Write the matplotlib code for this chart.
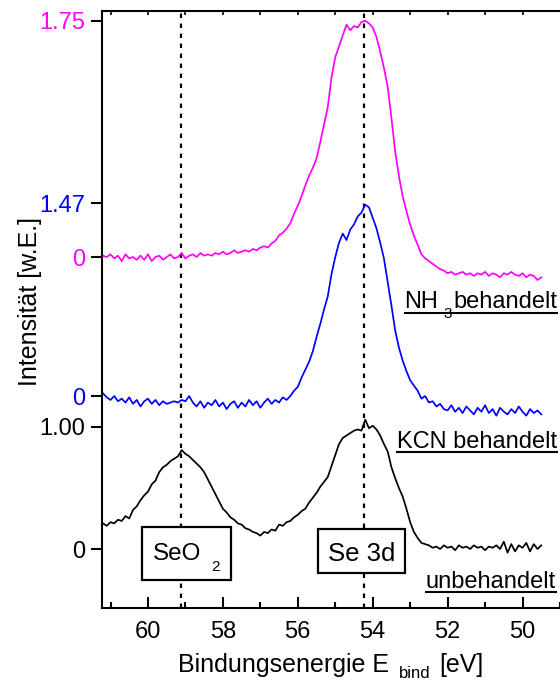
import numpy as np
import matplotlib
matplotlib.use("Agg")
import matplotlib.pyplot as plt
from matplotlib.transforms import IdentityTransform
from matplotlib.lines import Line2D
from matplotlib.patches import Rectangle

plt.rcParams['font.family'] = ['Liberation Sans', 'DejaVu Sans']

# ---------------- data (binding energy grid 61.2 -> 49.5 eV, 0.1 eV steps) ----------------
energy_start = 61.2
energy_step = 0.1

unbehandelt = [
    0.21, 0.19, 0.22, 0.21, 0.24, 0.23, 0.27, 0.25, 0.32, 0.35,
    0.40, 0.44, 0.47, 0.53, 0.56, 0.63, 0.67, 0.69, 0.72, 0.74,
    0.76, 0.81, 0.78, 0.76, 0.73, 0.70, 0.67, 0.63, 0.57, 0.51,
    0.45, 0.39, 0.33, 0.30, 0.26, 0.24, 0.21, 0.20, 0.17, 0.16,
    0.14, 0.13, 0.11, 0.14, 0.13, 0.16, 0.15, 0.20, 0.19, 0.22,
    0.23, 0.26, 0.28, 0.31, 0.33, 0.38, 0.42, 0.46, 0.51, 0.55,
    0.59, 0.68, 0.77, 0.86, 0.91, 0.93, 0.95, 0.97, 0.98, 0.97,
    1.06, 0.99, 1.01, 0.98, 0.93, 0.86, 0.80, 0.67, 0.58, 0.50,
    0.43, 0.33, 0.22, 0.14, 0.09, 0.05, 0.04, 0.03, 0.01, 0.02,
    0.00, 0.03, 0.01, 0.02, -0.01, 0.03, 0.01, 0.02, 0.00, 0.03,
    0.01, 0.02, -0.01, 0.02, 0.01, 0.03, 0.00, 0.06, -0.03, 0.04,
    -0.02, 0.03, 0.01, 0.05, -0.02, 0.04, 0.00, 0.03,
]

kcn_behandelt = [
    0.02, -0.01, -0.03, 0.00, -0.04, -0.02, -0.05, -0.01, -0.06, -0.03,
    -0.08, -0.04, -0.02, -0.06, -0.03, -0.07, -0.04, -0.06, -0.05, -0.04,
    -0.05, -0.03, -0.04, 0.00, -0.05, -0.08, -0.04, -0.09, -0.05, -0.07,
    -0.03, -0.08, -0.05, -0.10, -0.06, -0.04, -0.09, -0.05, -0.08, -0.03,
    -0.07, -0.04, -0.09, -0.05, -0.02, -0.06, -0.03, -0.05, -0.01, -0.03,
    0.00, 0.04, 0.07, 0.14, 0.20, 0.26, 0.34, 0.45, 0.55, 0.66,
    0.76, 0.93, 1.06, 1.17, 1.24, 1.19, 1.27, 1.31, 1.37, 1.40,
    1.46, 1.44, 1.36, 1.28, 1.17, 1.05, 0.87, 0.69, 0.50, 0.37,
    0.27, 0.19, 0.12, 0.08, 0.04, -0.02, 0.00, -0.05, -0.04, -0.08,
    -0.06, -0.10, -0.11, -0.07, -0.12, -0.09, -0.13, -0.08, -0.11, -0.14,
    -0.09, -0.12, -0.07, -0.13, -0.10, -0.15, -0.09, -0.12, -0.14, -0.10,
    -0.13, -0.08, -0.12, -0.15, -0.10, -0.13, -0.11, -0.14,
]

nh3_behandelt = [
    0.01, 0.00, 0.02, -0.01, 0.01, -0.03, 0.02, -0.01, 0.00, -0.02,
    0.01, -0.02, 0.02, -0.03, 0.00, 0.01, -0.02, 0.00, 0.02, -0.01,
    0.00, 0.03, -0.01, 0.01, 0.02, 0.00, 0.03, 0.01, 0.02, 0.01,
    0.03, 0.02, 0.04, 0.02, 0.03, 0.05, 0.03, 0.04, 0.05, 0.04,
    0.06, 0.05, 0.07, 0.08, 0.07, 0.10, 0.12, 0.16, 0.18, 0.21,
    0.25, 0.32, 0.38, 0.45, 0.53, 0.60, 0.66, 0.73, 0.85, 0.98,
    1.11, 1.33, 1.48, 1.56, 1.64, 1.72, 1.68, 1.71, 1.70, 1.74,
    1.75, 1.73, 1.70, 1.63, 1.52, 1.40, 1.26, 1.03, 0.78, 0.60,
    0.45, 0.34, 0.24, 0.16, 0.09, 0.02, -0.01, -0.03, -0.05, -0.07,
    -0.09, -0.10, -0.12, -0.11, -0.13, -0.12, -0.11, -0.13, -0.12, -0.14,
    -0.12, -0.13, -0.11, -0.14, -0.12, -0.13, -0.15, -0.12, -0.13, -0.11,
    -0.13, -0.14, -0.12, -0.15, -0.13, -0.14, -0.17, -0.15,
]

energy = energy_start - energy_step * np.arange(len(unbehandelt))

series_values = [unbehandelt, kcn_behandelt, nh3_behandelt]
series_colors = ['black', '#0000ff', '#ff00ff']
series_offsets = [0.0, 1.254, 2.393]
series_scales = [1.0, 1.074, 1.107]
series_tops = [1.00, 1.47, 1.75]
series_top_labels = ['1.00', '1.47', '1.75']

peak_energies = [59.13, 54.24]
x_major = [60, 58, 56, 54, 52, 50]
x_minor = [61, 59, 57, 55, 53, 51, 49]
top_ticks = list(range(50, 62))

# ---------------- figure ----------------
W, H = 560, 681
fig = plt.figure(figsize=(W / 100, H / 100), dpi=100)
ax = fig.add_axes([102 / W, (H - 608) / H, (W - 102) / W, (608 - 11) / H])

for x in peak_energies:
    ax.axvline(x, color='black', lw=1.6, ls=(0, (2, 2.5)), zorder=1)

for vals, col, off, sc in zip(series_values, series_colors, series_offsets, series_scales):
    ax.plot(energy, off + sc * np.asarray(vals), color=col, lw=1.25, zorder=2)

ax.set_xlim(61.227, 49.013)
ax.set_ylim(-0.4836, 4.4098)

# y ticks: 0 and top label per curve
yt, yl, yc = [], [], []
for off, sc, top, lab, col in zip(series_offsets, series_scales, series_tops,
                                  series_top_labels, series_colors):
    yt += [off, off + sc * top]
    yl += ['0', lab]
    yc += [col, col]
order = np.argsort(yt)
ax.set_yticks([yt[i] for i in order])
ax.set_yticklabels([yl[i] for i in order], fontsize=17)
for lbl, i in zip(ax.get_yticklabels(), order):
    lbl.set_color(yc[i])
ax.tick_params(axis='y', direction='out', length=8, width=1.5, pad=4)

ax.set_xticks(x_major)
ax.set_xticklabels([str(v) for v in x_major], fontsize=17)
ax.set_xticks(x_minor, minor=True)
ax.tick_params(axis='x', which='major', direction='in', length=8, width=1.5, pad=9)
ax.tick_params(axis='x', which='minor', direction='in', length=4, width=1.5)

for s in ['left', 'bottom']:
    ax.spines[s].set_linewidth(1.5)
ax.spines['right'].set_visible(False)
ax.spines['top'].set_visible(False)

sec = ax.secondary_xaxis('top')
sec.set_xticks(top_ticks)
sec.set_xticklabels([])
sec.tick_params(direction='in', length=3, width=1.2)
sec.spines['top'].set_linewidth(1.5)

ax.set_ylabel('Intensität [w.E.]', fontsize=18)
ax.yaxis.set_label_coords(-0.131, 0.514)

fig.canvas.draw()
R = fig.canvas.get_renderer()


def compose(pieces, x, base_px, align):
    yb = H - base_px
    arts = []
    cur = 0.0
    for s, size, drop, gap in pieces:
        cur += gap
        t = fig.text(cur, yb - drop, s, fontsize=size, ha='left', va='baseline',
                     transform=IdentityTransform(), zorder=5)
        bb = t.get_window_extent(renderer=R)
        cur = bb.x1
        arts.append(t)
    if align == 'left':
        shift = x
    elif align == 'right':
        shift = x - cur
    else:
        shift = x - cur / 2
    for t in arts:
        px, py = t.get_position()
        t.set_position((px + shift, py))
    return shift, shift + cur


def underline(x0, x1, base_px, d=3.5):
    y = H - base_px - d
    fig.add_artist(Line2D([x0, x1], [y, y], transform=IdentityTransform(),
                          color='black', lw=1.5, zorder=5))


def box(x0, x1, top_px, bottom_px):
    fig.add_artist(Rectangle((x0, H - bottom_px), x1 - x0, bottom_px - top_px,
                             transform=IdentityTransform(), fc='white', ec='black',
                             lw=1.6, zorder=4))


# x label with lowered subscript
compose([("Bindungsenergie E", 18, 0, 0), ("bind", 12, 6, 10), ("[eV]", 18, 0, 9)],
        331, 672, 'center')

# curve labels
x0, x1 = compose([("NH", 17, 0, 0), ("3", 11, 10, 5), ("behandelt", 17, 0, 1)], 557, 308, 'right')
underline(x0, x1, 308, 4.5)
x0, x1 = compose([("KCN behandelt", 17, 0, 0)], 557, 448, 'right')
underline(x0, x1, 448)
x0, x1 = compose([("unbehandelt", 17, 0, 0)], 556, 588, 'right')
underline(x0, x1, 588)

# peak labels in boxes
x0, x1 = compose([("SeO", 17.5, 0, 0), ("2", 11, 11, 10)], 186.5, 560, 'center')
box(x0 - 11, x1 + 11, 527, 580)
x0, x1 = compose([("Se 3d", 18.5, 0, 0)], 362, 561, 'center')
box(x0 - 10, x1 + 9, 529, 573)

fig.savefig('out.png', dpi=100)
